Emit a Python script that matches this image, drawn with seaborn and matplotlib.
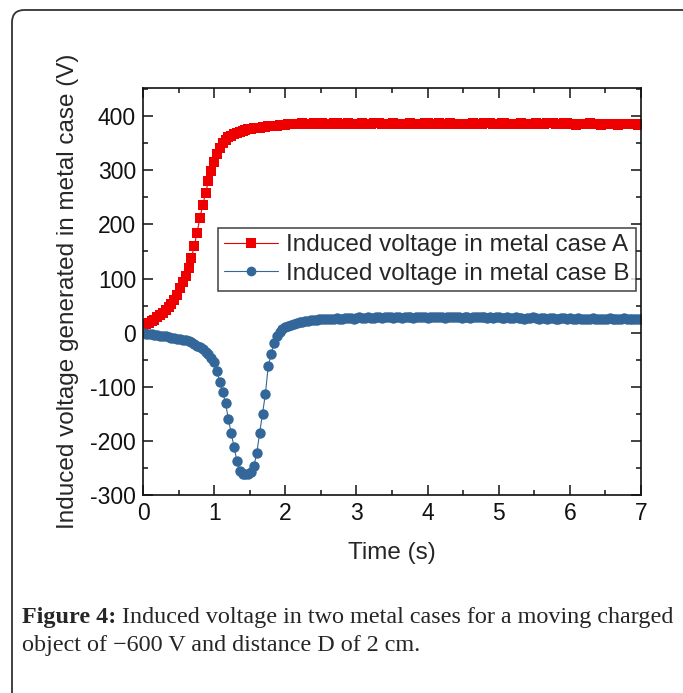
import numpy as np
import pandas as pd
import matplotlib
matplotlib.use("Agg")
import matplotlib.pyplot as plt
from matplotlib.patches import FancyBboxPatch
from matplotlib.ticker import MultipleLocator
import seaborn as sns

# ---- data (sampled every 0.04 s) ----
dt = 0.04
volt_A = [14, 16, 18, 21, 24, 28, 32, 36, 41, 47,
          53, 60, 70, 82, 93, 105, 120, 138, 160, 185,
          212, 236, 258, 280, 298, 315, 330, 342, 350, 356,
          361, 364, 367, 369, 371, 373, 375, 376, 377, 378,
          379, 379, 380, 380, 381, 381, 382, 382, 383, 383,
          384,
          385, 386, 386, 385, 386, 387, 386, 385, 386, 387,
          386, 386, 387, 386, 385, 386, 387, 388, 386, 385,
          386, 387, 386, 386, 385, 386, 387, 386, 385, 386,
          387, 388, 387, 386, 386, 385, 386, 387, 386, 386,
          385, 386, 386, 387, 386, 385, 386, 386, 387, 388,
          386, 385, 386, 387, 386, 385, 386, 387, 386, 386,
          385, 386, 386, 385, 386, 387, 386, 385, 386, 387,
          388, 387, 386, 385, 386, 387, 388, 386, 385, 386,
          385, 386, 387, 386, 385, 386, 386, 387, 386, 385,
          386, 387, 388, 387, 386, 385, 386, 387, 388, 386,
          385, 384, 385, 386, 385, 386, 387, 386, 385, 386,
          384, 385, 386, 385, 386, 385, 384, 385, 386, 385,
          386, 385, 386, 384, 386]

volt_B = [0, -2, -3, -3, -4, -5, -6, -7, -7, -8,
          -9, -10, -11, -12, -13, -14, -16, -18, -21, -24,
          -27, -31, -35, -40, -46, -55, -70, -92, -110, -130,
          -160, -186, -212, -237, -255, -261, -262, -262, -258, -246,
          -222, -185, -150, -114, -62, -40, -20, -6, 2, 7,
          10, 13, 15, 16, 17, 19, 20, 21, 22, 23,
          24, 24, 25,
          25, 25, 26, 26, 26, 27, 26, 26, 27, 27,
          27, 26, 27, 28, 27, 27, 28, 27, 27, 28,
          28, 27, 28, 29, 28, 27, 28, 28, 27, 28,
          28, 28, 27, 28, 29, 28, 28, 27, 28, 28,
          29, 28, 28, 27, 28, 28, 28, 29, 28, 27,
          28, 28, 27, 28, 28, 29, 28, 28, 27, 28,
          27, 28, 28, 27, 27, 28, 27, 27, 28, 27,
          27, 26, 27, 27, 28, 27, 26, 27, 27, 26,
          27, 27, 26, 26, 27, 27, 26, 27, 26, 26,
          27, 26, 26, 25, 26, 27, 26, 26, 25, 26,
          26, 27, 26, 25, 26, 26, 27, 26, 25, 26,
          26, 25, 26]

label_A = "Induced voltage in metal case A"
label_B = "Induced voltage in metal case B"
x_label = "Time (s)"
y_label = "Induced voltage generated in metal case (V)"
x_ticks = [0, 1, 2, 3, 4, 5, 6, 7]
y_ticks = [-300, -200, -100, 0, 100, 200, 300, 400]
caption_bold = "Figure 4:"
caption_rest = " Induced voltage in two metal cases for a moving charged"
caption_line2 = "object of \u2212600 V and distance D of 2 cm."

time_A = np.round(np.arange(len(volt_A)) * dt, 2)
time_B = np.round(np.arange(len(volt_B)) * dt, 2)

df = pd.concat([
    pd.DataFrame({"t": time_A, "v": volt_A, "s": label_A}),
    pd.DataFrame({"t": time_B, "v": volt_B, "s": label_B}),
])

sns.set_style("ticks")
plt.rcParams["font.family"] = ["Liberation Sans", "DejaVu Sans"]
plt.rcParams["axes.unicode_minus"] = False

W, H = 683, 693
fig = plt.figure(figsize=(W / 100, H / 100), dpi=100)
ax = fig.add_axes([143 / W, 1 - 495 / H, (641 - 143) / W, (495 - 88) / H])

red = "#EE0000"
blue = "#336699"
sns.lineplot(data=df, x="t", y="v", hue="s", style="s",
             palette={label_A: red, label_B: blue},
             markers={label_A: "s", label_B: "o"}, dashes=False,
             markersize=7.5, markeredgewidth=0, linewidth=0.8,
             ax=ax, legend=True)

ax.set_xlim(0, 7)
ax.set_ylim(-300, 452)
ax.set_xticks(x_ticks)
ax.set_yticks(y_ticks)
ax.xaxis.set_minor_locator(MultipleLocator(0.5))
ax.yaxis.set_minor_locator(MultipleLocator(50))
ax.tick_params(which="both", direction="in", top=True, right=True,
               labelsize=16.5, colors="#111111", width=1.1)
ax.tick_params(which="major", length=7, pad=5)
ax.tick_params(which="minor", length=3.5)
for sp in ax.spines.values():
    sp.set_linewidth(1.2)
    sp.set_color("#111111")

ax.set_xlabel(x_label, fontsize=17.5, va="center")
ax.set_ylabel(y_label, fontsize=17.5, va="center")
ax.xaxis.set_label_coords(0.5, (495 - 553) / 407)
ax.yaxis.set_label_coords((68 - 143) / 498, 0.5)

leg = ax.legend(loc="upper right", bbox_to_anchor=(0.99, 0.656),
                fontsize=17.5, frameon=True, fancybox=False,
                handlelength=2.2, borderpad=0.25, labelspacing=0.28,
                handletextpad=0.35, borderaxespad=0)
leg.get_frame().set_edgecolor("#111111")
leg.get_frame().set_linewidth(1.1)
for h in leg.legend_handles:
    h.set_markersize(7)

# caption
serif = ["Liberation Serif", "DejaVu Serif"]
cap_fs = 17.4
t1 = fig.text(22 / W, 1 - 618 / H, caption_bold, fontsize=cap_fs,
              fontweight="bold", family=serif, va="center", ha="left")
fig.canvas.draw()
bb = t1.get_window_extent()
fig.text(bb.x1 / W, 1 - 618 / H, caption_rest, fontsize=cap_fs,
         family=serif, va="center", ha="left")
fig.text(22 / W, 1 - 646 / H, caption_line2, fontsize=cap_fs,
         family=serif, va="center", ha="left")

# rounded frame around the figure (top-left corner visible)
frame = FancyBboxPatch((12 / W, -0.1), 1.2, 1 - 10 / H + 0.1,
                       boxstyle="round,pad=0,rounding_size=0.018",
                       transform=fig.transFigure, fill=False,
                       edgecolor="#333333", linewidth=1.3, clip_on=False)
fig.patches.append(frame)

fig.savefig("out.png", dpi=100)
